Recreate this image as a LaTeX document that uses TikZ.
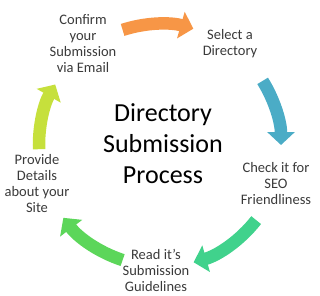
\documentclass[tikz,border=0pt]{standalone}
\usepackage{fontspec}
\setmainfont{Carlito}
\usetikzlibrary{arrows.meta}
\definecolor{corange}{HTML}{F79646}
\definecolor{cblue}{HTML}{4BACC6}
\definecolor{cteal}{HTML}{40D28C}
\definecolor{cgreen}{HTML}{5CD65A}
\definecolor{cyellow}{HTML}{C6E03C}
\definecolor{ctext}{HTML}{3A3A3A}
\begin{document}
\begin{tikzpicture}[x=1pt,y=1pt,
  cyc/.style={line width=12.5pt, -{Triangle[width=27pt,length=13pt]}},
  lbl/.style={align=center, font=\fontsize{14.5}{16}\selectfont, text=ctext, inner sep=0pt},
  ttl/.style={align=center, font=\fontsize{26}{31}\selectfont, text=black, inner sep=0pt}]
\useasboundingbox (0,0) rectangle (320,295);
\coordinate (c) at (160,150);
\node[ttl] (title) at (163,151) {Directory\\Submission\\Process};
\node[lbl] (confirm) at (83,251) {Confirm\\your\\Submission\\via Email};
\node[lbl] (select) at (230,251) {Select a\\Directory};
\node[lbl] (check) at (276,111) {Check it for\\SEO\\Friendliness};
\node[lbl] (read) at (156,25) {Read it’s\\Submission\\Guidelines};
\node[lbl] (provide) at (37,111) {Provide\\Details\\about your\\Site};
\path (c) ++(108:121) coordinate (a1);
\path (c) ++(32:121) coordinate (a2);
\path (c) ++(-38:122) coordinate (a3);
\path (c) ++(-108:121) coordinate (a4);
\path (c) ++(182:121) coordinate (a5);
\draw[cyc, corange] (a1) arc[start angle=108, end angle=74, radius=121pt];
\draw[cyc, cblue] (a2) arc[start angle=32, end angle=0, radius=121pt];
\draw[cyc, cteal] (a3) arc[start angle=-38, end angle=-74, radius=122pt];
\draw[cyc, cgreen] (a4) arc[start angle=-108, end angle=-143, radius=121pt];
\draw[cyc, cyellow] (a5) arc[start angle=182, end angle=150, radius=121pt];
\end{tikzpicture}
\end{document}
